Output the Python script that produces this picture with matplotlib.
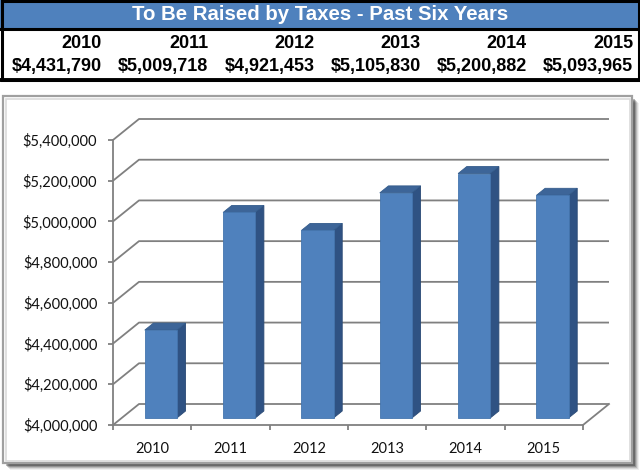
import matplotlib
matplotlib.use("Agg")
import matplotlib.pyplot as plt
from matplotlib.patches import Rectangle, Polygon
from matplotlib.ticker import FixedLocator, FuncFormatter, NullFormatter

# ---------------- data ----------------
title = "To Be Raised by Taxes - Past Six Years"
years = ["2010", "2011", "2012", "2013", "2014", "2015"]
values = [4431790, 5009718, 4921453, 5105830, 5200882, 5093965]
y_ticks = [4000000, 4200000, 4400000, 4600000, 4800000, 5000000, 5200000, 5400000]

W, H = 640, 471
fig = plt.figure(figsize=(6.4, 4.71), dpi=100)

# ---------------- background / decorations (pixel coords) ----------------
bg = fig.add_axes([0, 0, 1, 1])
bg.set_xlim(0, W)
bg.set_ylim(H, 0)
bg.axis("off")

# header block
bg.add_patch(Rectangle((0, 0), W, 28, fc="#4F81BD", ec="none"))
bg.add_patch(Rectangle((1.5, 1), W - 3, 78.5, fc="none", ec="black", lw=2.2))
bg.plot([0, W], [28.5, 28.5], color="black", lw=2.2)
bg.plot([0, W], [79.5, 79.5], color="black", lw=2.8)
bg.text(W / 2, 15, title, color="white", fontsize=14.7, fontweight="bold",
        ha="center", va="center", family="Liberation Sans")

col_right = [102 + i * 106.2 for i in range(len(years))]
for xr, yr, v in zip(col_right, years, values):
    bg.text(xr, 43.5, yr, fontsize=13, fontweight="bold", ha="right", va="center",
            family="Liberation Sans", color="black")
    bg.text(xr, 66.5, "${:,}".format(v), fontsize=13, fontweight="bold", ha="right",
            va="center", family="Liberation Sans", color="black")

# chart frame with shadow
for k, a in enumerate([0.10, 0.16, 0.24, 0.34, 0.46]):
    off = 5 - k
    bg.add_patch(Rectangle((3 + off + 2, 96 + off + 2), 629, 367, fc="black",
                           alpha=a * 0.6, ec="none"))
bg.add_patch(Rectangle((3, 96), 629, 367, fc="white", ec="#A0A0A0", lw=1.6))
bg.add_patch(Rectangle((5.5, 98.5), 624, 362, fc="none", ec="#DADADA", lw=1.2))

# ---------------- chart axes ----------------
ax = fig.add_axes([113 / W, 1 - 425 / H, 470 / W, 285 / H])
n = len(years)
ymin, ymax = y_ticks[0], y_ticks[-1]
ax.set_xlim(-0.5, n - 0.5)
ax.set_ylim(ymin, ymax)
ax.patch.set_alpha(0)

grid_c = "#808080"
for s in ["top", "right"]:
    ax.spines[s].set_visible(False)
for s in ["left", "bottom"]:
    ax.spines[s].set_color(grid_c)
    ax.spines[s].set_linewidth(1.3)

ax.yaxis.set_major_locator(FixedLocator(y_ticks))
ax.yaxis.set_major_formatter(FuncFormatter(lambda v, p: "${:,.0f}".format(v)))
ax.xaxis.set_major_locator(FixedLocator([i - 0.5 for i in range(n + 1)]))
ax.xaxis.set_major_formatter(NullFormatter())
ax.xaxis.set_minor_locator(FixedLocator(list(range(n))))
ax.set_xticklabels(years, minor=True)
ax.tick_params(axis="x", which="major", length=3.6, width=1.3, color=grid_c, direction="out")
ax.tick_params(axis="x", which="minor", length=0, pad=12.5, labelsize=10.5)
ax.tick_params(axis="y", length=3.6, width=1.3, color=grid_c, direction="out", pad=7.7,
               labelsize=10.5)
for lab in ax.get_xticklabels(minor=True) + ax.get_yticklabels():
    lab.set_family("Lato")
    lab.set_color("#111111")

# depth vector in pixels -> data units
DX, DY = 26.0, 21.0
fig.canvas.draw()
base = ax.transData.transform((0, ymin))
p0 = ax.transData.inverted().transform((base[0] + DX, base[1] + DY))
ddx = p0[0] - 0.0
ddy = p0[1] - ymin


def P(x, y, d):
    return (x + d * ddx, y + d * ddy)


# back wall gridlines + left wall diagonals
for t in y_ticks:
    xs, ys = zip(P(-0.5, t, 0), P(-0.5, t, 1), P(n - 0.5, t, 1))
    ax.plot(xs, ys, color=grid_c, lw=1.3, clip_on=False, zorder=1,
            solid_capstyle="butt")
# floor right edge
xs, ys = zip(P(n - 0.5, ymin, 0), P(n - 0.5, ymin, 1))
ax.plot(xs, ys, color=grid_c, lw=1.3, clip_on=False, zorder=1)

# bars
bw = 0.41
d0, d1 = 1 / 3, 2 / 3
c_front, c_side, c_top = "#4F81BD", "#2F5283", "#3D6598"
for i, v in enumerate(values):
    xl, xr = i - bw / 2, i + bw / 2
    front = [P(xl, ymin, d0), P(xr, ymin, d0), P(xr, v, d0), P(xl, v, d0)]
    side = [P(xr, ymin, d0), P(xr, ymin, d1), P(xr, v, d1), P(xr, v, d0)]
    top = [P(xl, v, d0), P(xr, v, d0), P(xr, v, d1), P(xl, v, d1)]
    ax.add_patch(Polygon(side, closed=True, fc=c_side, ec="#2A4A75", lw=0.6,
                         clip_on=False, zorder=3))
    ax.add_patch(Polygon(top, closed=True, fc=c_top, ec="#345C8C", lw=0.6,
                         clip_on=False, zorder=3))
    ax.add_patch(Polygon(front, closed=True, fc=c_front, ec="#4475AE", lw=0.6,
                         clip_on=False, zorder=4))

fig.savefig("out.png", dpi=100)
